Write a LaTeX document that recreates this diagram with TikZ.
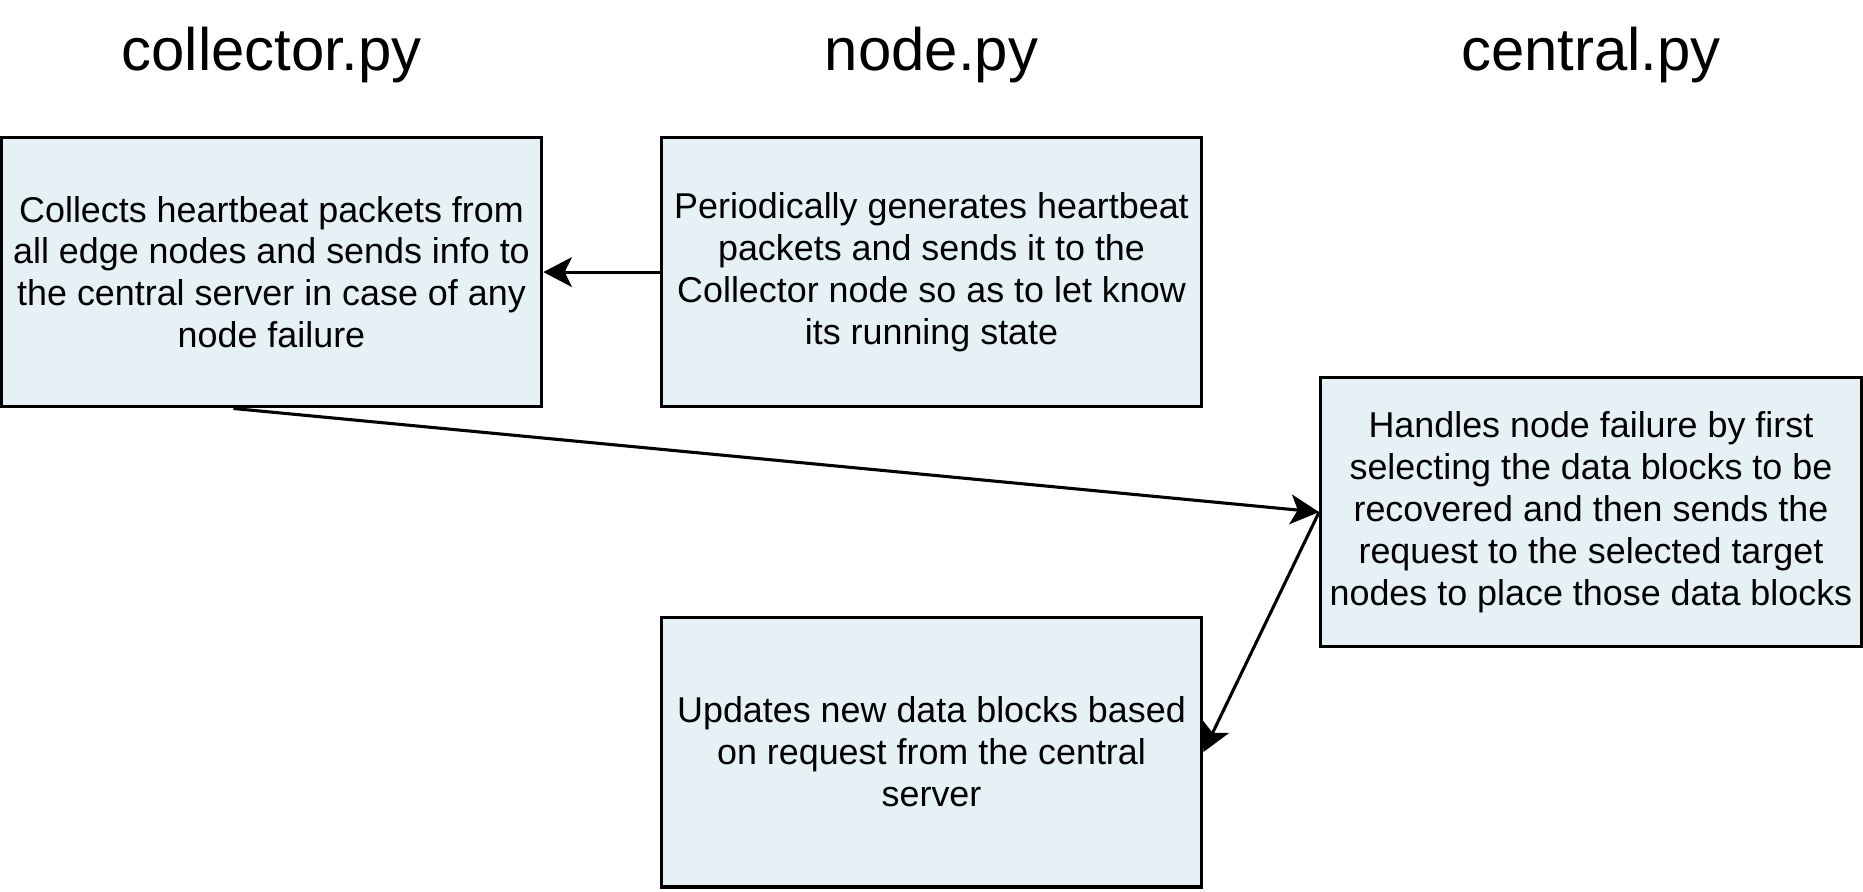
\documentclass[tikz,border=0pt]{standalone}
\usepackage{fontspec}
\setmainfont{Liberation Sans}
\usetikzlibrary{arrows.meta,calc}
\definecolor{boxfill}{RGB}{230,241,245}
\begin{document}
\begin{tikzpicture}[x=0.5pt,y=-0.5pt,
  box/.style={draw=black,line width=1.3pt,fill=boxfill,minimum width=227.5pt,minimum height=113.5pt,inner sep=0pt,align=center,font=\fontsize{15.1pt}{17.65pt}\selectfont},
  title/.style={font=\fontsize{25.2pt}{29pt}\selectfont,anchor=base},
  conn/.style={line width=1.3pt,-{Stealth[length=12pt,width=12.5pt,inset=3pt]}}]
\useasboundingbox (0,0) rectangle (1568,750);
\node[title] (t1) at (228.5,59) {collector.py};
\node[title] (t2) at (784,59) {node.py};
\node[title] (t3) at (1339,59) {central.py};
\node[box] (coll) at (228.5,229) {Collects heartbeat packets from\\all edge nodes and sends info to\\the central server in case of any\\node failure};
\node[box] (nodep) at (784,229) {Periodically generates heartbeat\\packets and sends it to the\\Collector node so as to let know\\its running state};
\node[box] (cent) at (1339,431) {Handles node failure by first\\selecting the data blocks to be\\recovered and then sends the\\request to the selected target\\nodes to place those data blocks};
\node[box] (upd) at (784,633) {Updates new data blocks based\\on request from the central\\server};
\draw[conn] (nodep.west) -- (coll.east);
\draw[conn] ($(coll.south west)!0.43!(coll.south east)$) -- (cent.west);
\draw[conn] (cent.west) -- (upd.east);
\end{tikzpicture}
\end{document}
